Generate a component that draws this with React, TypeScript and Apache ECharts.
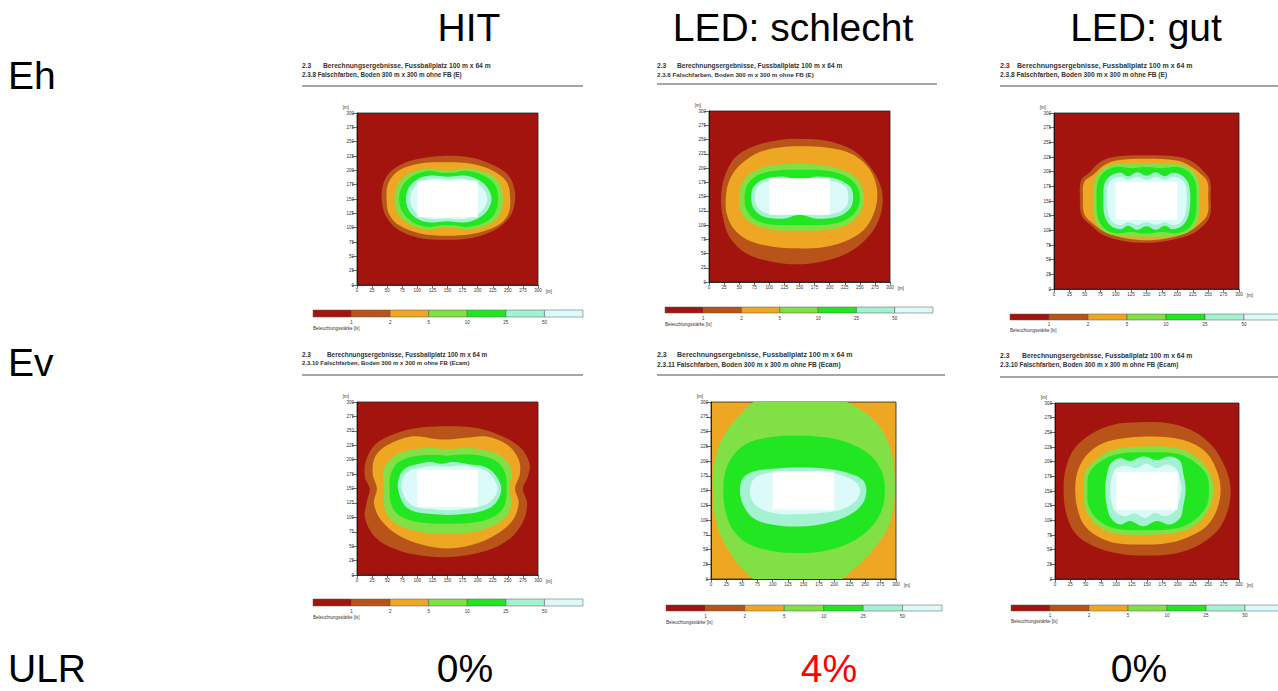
import React, { useEffect, useRef } from 'react';
import * as echarts from 'echarts';

const FONT = '"Liberation Sans", Arial, Helvetica, sans-serif';

// ---------- texts ----------
const COLUMN_TITLES = ['HIT', 'LED: schlecht', 'LED: gut'];
const ROW_TITLES = ['Eh', 'Ev', 'ULR'];
const ULR_VALUES = ['0%', '4%', '0%'];
const ULR_COLORS = ['#000000', '#ff0000', '#000000'];
const HEADER_NUM = '2.3';
const HEADER_1 = 'Berechnungsergebnisse, Fussballplatz 100 m x 64 m';
const HEADER_2 = [
  '2.3.8 Falschfarben, Boden 300 m x 300 m ohne FB (E)',
  '2.3.8 Falschfarben, Boden 300 m x 300 m ohne FB (E)',
  '2.3.8 Falschfarben, Boden 300 m x 300 m ohne FB (E)',
  '2.3.10 Falschfarben, Boden 300 m x 300 m ohne FB (Ecam)',
  '2.3.11 Falschfarben, Boden 300 m x 300 m ohne FB (Ecam)',
  '2.3.10 Falschfarben, Boden 300 m x 300 m ohne FB (Ecam)',
];
const LEGEND_TITLE = 'Beleuchtungsstärke [lx]';
const LEGEND_TICKS = ['1', '2', '5', '10', '25', '50'];
const AXIS_MIN = 0;
const AXIS_MAX = 300;
const AXIS_STEP = 25;

// level index: 0 <1 lx, 1 = 1-2, 2 = 2-5, 3 = 5-10, 4 = 10-25, 5 = 25-50, 6 = >50
const LEVEL_COLORS = ['#a3140f', '#b8541a', '#eea722', '#80e046', '#22e622', '#a4f2d2', '#dcfafa'];
const FIELD_COLOR = '#ffffff';
const FIELD = [[100, 118], [200, 118], [200, 182], [100, 182]];

// ---------- contour outlines (metres) ----------
// Eh - HIT
const EH_HIT_L1 = [[41,150],[44,178],[58,200],[90,217],[140,225],[190,222],[228,208],[252,190],[262,160],[259,132],[248,112],[225,94],[190,82],[145,79],[100,83],[66,98],[47,122]];
const EH_HIT_L2 = [[49,150],[52,178],[70,200],[105,212],[148,214],[192,211],[226,199],[248,180],[254,150],[250,122],[232,103],[195,90],[148,86],[105,90],[70,104],[53,124]];
const EH_HIT_L5 = [[62,150],[67,175],[85,194],[115,203],[140,200],[160,200],[185,203],[215,196],[235,180],[242,150],[236,122],[216,104],[185,97],[160,100],[140,100],[115,97],[86,106],[67,125]];
const EH_HIT_L10 = [[70,150],[75,172],[92,190],[118,199],[140,196],[160,196],[183,199],[210,191],[228,176],[234,150],[228,124],[210,108],[183,101],[160,104],[140,104],[118,101],[92,110],[75,128]];
const EH_HIT_L25 = [[81,150],[86,170],[101,185],[122,191],[150,189],[178,191],[200,184],[216,170],[223,150],[216,130],[200,116],[178,109],[150,111],[122,109],[101,115],[86,130]];
const EH_HIT_L50 = [[88,150],[93,167],[106,180],[125,185],[150,184],[175,185],[196,179],[210,167],[216,150],[210,133],[196,121],[175,115],[150,116],[125,115],[106,120],[93,133]];

// Eh - LED schlecht
const EH_BAD_L1 = [[20,149],[26,185],[45,220],[79,240],[123,250],[151,251],[195,248],[239,231],[267,202],[283,173],[288,144],[281,108],[261,76],[228,50],[184,35],[145,31],[106,35],[62,50],[34,79],[23,114]];
const EH_BAD_L2 = [[28,149],[34,179],[51,205],[84,228],[123,237],[151,238],[195,236],[234,226],[261,205],[275,179],[279,149],[272,117],[256,91],[223,70],[184,60],[145,59],[106,62],[68,72],[43,91],[30,117]];
const EH_BAD_L5 = [[50,149],[56,176],[79,197],[117,206],[151,207],[187,205],[223,196],[247,179],[257,149],[250,120],[228,100],[189,91],[151,90],[112,91],[76,100],[54,120]];
const EH_BAD_L10 = [[59,149],[65,173],[84,189],[117,196],[151,197],[187,196],[220,189],[242,173],[250,149],[244,125],[223,107],[189,100],[151,100],[112,100],[80,107],[63,125]];
const EH_BAD_L25 = [[70,149],[74,167],[90,180],[123,185],[145,179],[156,179],[178,185],[214,180],[234,167],[239,149],[234,129],[214,115],[178,111],[156,117],[145,117],[123,111],[90,115],[74,129]];
const EH_BAD_L50 = [[76,149],[80,166],[94,176],[123,179],[145,174],[156,174],[178,179],[211,176],[227,166],[231,149],[227,132],[211,121],[178,117],[156,121],[145,121],[123,117],[94,121],[80,132]];

// Eh - LED gut
const EH_GOOD_L1 = [[42,157],[44,185],[58,199],[74,216],[96,225],[150,228],[204,225],[226,216],[244,199],[253,185],[254,157],[253,125],[242,108],[220,92],[182,82],[150,79],[112,82],[80,92],[61,108],[45,125]];
const EH_GOOD_L2 = [[47,157],[49,182],[64,195],[80,210],[101,219],[150,222],[199,219],[220,210],[239,195],[249,182],[250,157],[249,128],[236,111],[215,96],[182,86],[150,83],[118,86],[85,96],[64,111],[49,128]];
const EH_GOOD_L5 = [[64,155],[66,185],[78,204],[100,213],[150,214],[200,213],[222,204],[234,185],[236,155],[234,120],[222,100],[200,91],[150,89],[100,91],[78,100],[66,120]];
const EH_GOOD_L10 = [[69,155],[71,183],[82,200],[100,208],[125,206],[150,208],[175,206],[200,208],[218,200],[229,183],[231,155],[229,122],[218,103],[200,95],[175,97],[150,94],[125,97],[100,95],[82,103],[71,122]];
const EH_GOOD_L25 = [[80,155],[82,180],[92,193],[108,198],[120,192],[135,199],[150,193],[165,199],[180,192],[192,198],[208,193],[218,180],[221,155],[218,125],[208,108],[192,102],[180,108],[165,101],[150,107],[135,101],[120,108],[108,102],[92,108],[82,125]];
const EH_GOOD_L50 = [[86,155],[88,178],[96,188],[110,191],[120,186],[135,191],[150,186],[165,191],[180,186],[192,191],[205,188],[213,178],[215,155],[213,128],[205,113],[192,109],[180,114],[165,109],[150,114],[135,109],[120,114],[110,109],[96,113],[88,128]];

// Ev - HIT
const EV_HIT_L1 = [[21,150],[13,170],[15,199],[32,228],[71,248],[109,256],[148,258],[190,256],[231,245],[270,222],[286,193],[283,170],[275,150],[282,124],[275,92],[253,63],[214,42],[154,31],[98,35],[54,49],[27,69],[13,101],[17,130]];
const EV_HIT_L2 = [[33,150],[26,175],[30,205],[50,225],[90,240],[130,236],[150,235],[180,238],[215,240],[250,225],[268,200],[270,175],[262,150],[268,125],[258,95],[230,70],[190,52],[150,46],[110,52],[70,68],[40,95],[28,125]];
const EV_HIT_L5 = [[45,150],[43,175],[50,195],[72,212],[110,220],[150,219],[190,220],[228,212],[250,195],[256,175],[252,150],[256,125],[248,102],[225,85],[190,74],[150,72],[110,74],[72,85],[52,102],[44,125]];
const EV_HIT_L10 = [[54,150],[56,175],[68,195],[95,206],[130,208],[150,207],[175,209],[210,206],[234,195],[246,175],[248,150],[245,122],[230,103],[200,92],[150,89],[100,92],[70,103],[57,122]];
const EV_HIT_L25 = [[68,150],[70,170],[80,185],[100,192],[120,196],[140,193],[160,196],[185,192],[210,188],[228,175],[239,150],[230,125],[210,112],[180,106],[150,104],[120,106],[95,110],[78,122]];
const EV_HIT_L50 = [[74,150],[76,168],[86,180],[105,186],[125,189],[150,188],[175,190],[200,186],[220,176],[233,150],[222,128],[200,118],[175,114],[150,112],[125,114],[100,117],[84,127]];

// Ev - LED schlecht (background 2-5 lx)
const EV_BAD_L5 = [[3,150],[4,123],[12,83],[31,44],[52,16],[77,-4],[150,-8],[204,-4],[231,16],[258,44],[285,83],[296,123],[298,168],[293,213],[277,252],[252,280],[209,304],[150,308],[77,304],[47,278],[23,247],[9,213],[3,175]];
const EV_BAD_L10 = [[20,151],[24,185],[39,213],[63,232],[101,241],[144,243],[188,240],[225,230],[258,210],[277,182],[282,151],[277,117],[258,86],[225,61],[182,47],[144,44],[101,47],[58,61],[34,86],[23,117]];
const EV_BAD_L25 = [[47,151],[52,171],[69,182],[101,187],[144,189],[188,187],[225,179],[246,168],[252,151],[246,128],[225,109],[188,95],[144,89],[101,92],[69,103],[52,126]];
const EV_BAD_L50 = [[63,151],[68,168],[82,177],[112,182],[144,183],[188,181],[220,173],[237,162],[242,151],[236,134],[217,120],[188,113],[144,110],[106,111],[79,120],[66,134]];

// Ev - LED gut
const EV_GOOD_L1 = [[14,152],[17,186],[30,220],[57,246],[95,263],[139,267],[182,266],[220,255],[252,232],[274,198],[286,158],[282,118],[266,84],[236,59],[198,44],[149,40],[106,43],[63,56],[33,78],[18,113]];
const EV_GOOD_L2 = [[33,152],[37,184],[52,212],[79,232],[112,240],[149,243],[187,241],[220,233],[247,215],[264,184],[270,152],[264,118],[247,90],[214,70],[177,60],[144,59],[106,60],[74,70],[49,90],[37,118]];
const EV_GOOD_L5 = [[47,152],[49,181],[66,203],[93,220],[149,226],[204,222],[233,206],[252,181],[258,152],[252,121],[233,95],[204,80],[149,75],[95,78],[66,94],[49,121]];
const EV_GOOD_L10 = [[53,152],[55,178],[71,198],[98,212],[149,216],[201,213],[228,199],[247,178],[251,152],[247,124],[228,101],[201,87],[149,83],[98,86],[71,100],[55,124]];
const EV_GOOD_L25 = [[82,152],[84,175],[91,197],[106,206],[122,201],[144,209],[166,203],[187,209],[204,201],[209,181],[213,152],[209,124],[204,104],[187,93],[166,99],[144,90],[122,99],[106,93],[91,104],[84,127]];
const EV_GOOD_L50 = [[90,152],[93,175],[100,189],[117,193],[133,189],[149,197],[166,189],[182,195],[198,187],[204,169],[206,152],[202,132],[195,115],[179,107],[163,113],[147,104],[130,112],[114,107],[98,115],[92,132]];

// per panel: background level, then [level, outline] from outside to inside
const PANEL_BG = [0, 0, 0, 0, 2, 0];
const PANEL_CONTOURS: [number, number[][]][][] = [
  [[1, EH_HIT_L1], [2, EH_HIT_L2], [3, EH_HIT_L5], [4, EH_HIT_L10], [5, EH_HIT_L25], [6, EH_HIT_L50]],
  [[1, EH_BAD_L1], [2, EH_BAD_L2], [3, EH_BAD_L5], [4, EH_BAD_L10], [5, EH_BAD_L25], [6, EH_BAD_L50]],
  [[1, EH_GOOD_L1], [2, EH_GOOD_L2], [3, EH_GOOD_L5], [4, EH_GOOD_L10], [5, EH_GOOD_L25], [6, EH_GOOD_L50]],
  [[1, EV_HIT_L1], [2, EV_HIT_L2], [3, EV_HIT_L5], [4, EV_HIT_L10], [5, EV_HIT_L25], [6, EV_HIT_L50]],
  [[3, EV_BAD_L5], [4, EV_BAD_L10], [5, EV_BAD_L25], [6, EV_BAD_L50]],
  [[1, EV_GOOD_L1], [2, EV_GOOD_L2], [3, EV_GOOD_L5], [4, EV_GOOD_L10], [5, EV_GOOD_L25], [6, EV_GOOD_L50]],
];

// ---------- layout (pixels) ----------
const LAYOUT = [
  { grid: [357, 113, 181, 172], hx: 302, hx2: 323, hy1: 65, hy2: 74, hs: 6.7, hrY: 86, hrX2: 583, lg: [313, 310, 270, 7], lgLabelY: 322, lgTitleY: 328 },
  { grid: [709, 111, 181, 171], hx: 657, hx2: 677, hy1: 65, hy2: 74, hs: 6.6, hrY: 84, hrX2: 937, lg: [665, 307, 268, 6], lgLabelY: 318, lgTitleY: 324 },
  { grid: [1054, 113, 185, 176], hx: 1000, hx2: 1017, hy1: 65, hy2: 74, hs: 7.0, hrY: 86, hrX2: 1278, lg: [1010, 314, 273, 6], lgLabelY: 324, lgTitleY: 330 },
  { grid: [357, 402, 181, 173], hx: 302, hx2: 327, hy1: 354, hy2: 363, hs: 6.4, hrY: 375, hrX2: 583, lg: [313, 599, 270, 7], lgLabelY: 611, lgTitleY: 617 },
  { grid: [711, 402, 185, 177], hx: 657, hx2: 677, hy1: 354, hy2: 364, hs: 7.0, hrY: 375, hrX2: 945, lg: [666, 605, 276, 6], lgLabelY: 616, lgTitleY: 622 },
  { grid: [1055, 403, 184, 176], hx: 1000, hx2: 1022, hy1: 355, hy2: 364, hs: 6.8, hrY: 377, hrX2: 1278, lg: [1011, 605, 273, 6], lgLabelY: 615, lgTitleY: 621 },
];
const COL_X = [469, 793, 1146];
const ULR_X = [465, 829, 1139];

function txt(x: number, y: number, text: string, size: number, opts: any = {}) {
  const align = opts.align || 'left';
  return {
    type: 'text',
    x,
    y,
    silent: true,
    style: {
      text,
      fontSize: size,
      fontFamily: FONT,
      fontWeight: opts.weight || 'normal',
      fill: opts.color || '#000',
      align,
      textAlign: align,
      verticalAlign: 'middle',
      textVerticalAlign: 'middle',
    },
  };
}

function buildOption() {
  const graphics: any[] = [];
  COLUMN_TITLES.forEach((t, i) => graphics.push(txt(COL_X[i], 27, t, 39, { align: 'center' })));
  graphics.push(txt(8, 75, ROW_TITLES[0], 39));
  graphics.push(txt(8, 362, ROW_TITLES[1], 39));
  graphics.push(txt(8, 668, ROW_TITLES[2], 39));
  ULR_VALUES.forEach((t, i) => graphics.push(txt(ULR_X[i], 668, t, 39, { align: 'center', color: ULR_COLORS[i] })));

  LAYOUT.forEach((l, i) => {
    graphics.push(txt(l.hx, l.hy1, HEADER_NUM, l.hs, { weight: 'bold', color: '#333' }));
    graphics.push(txt(l.hx2, l.hy1, HEADER_1, l.hs, { weight: 'bold', color: '#333' }));
    graphics.push(txt(l.hx, l.hy2, HEADER_2[i], l.hs - 0.4, { weight: 'bold', color: '#333' }));
    graphics.push({
      type: 'line',
      silent: true,
      shape: { x1: l.hx, y1: l.hrY, x2: l.hrX2, y2: l.hrY },
      style: { stroke: '#8a8a8a', lineWidth: 1.5 },
    });
    const [lx, ly, lw, lh] = l.lg;
    const sw = lw / LEVEL_COLORS.length;
    LEVEL_COLORS.forEach((c, k) => {
      graphics.push({
        type: 'rect',
        silent: true,
        shape: { x: lx + k * sw, y: ly, width: sw, height: lh },
        style: { fill: c, stroke: '#555', lineWidth: 0.5 },
      });
    });
    LEGEND_TICKS.forEach((t, k) => {
      graphics.push(txt(lx + (k + 1) * sw, l.lgLabelY, t, 4.5, { align: 'center', color: '#333' }));
    });
    graphics.push(txt(lx, l.lgTitleY, LEGEND_TITLE, 4.5, { color: '#333' }));
  });

  const axisCommon = {
    type: 'value',
    min: AXIS_MIN,
    max: AXIS_MAX,
    interval: AXIS_STEP,
    splitLine: { show: false },
    axisLine: { show: true, lineStyle: { color: '#111', width: 0.8 } },
    axisLabel: { fontSize: 4.5, color: '#333', fontFamily: FONT, margin: 3 },
    name: '[m]',
    nameLocation: 'end',
  };

  const grid = LAYOUT.map((l, i) => ({
    left: l.grid[0],
    top: l.grid[1],
    width: l.grid[2],
    height: l.grid[3],
    show: true,
    backgroundColor: LEVEL_COLORS[PANEL_BG[i]],
    borderColor: '#222',
    borderWidth: 0.8,
    containLabel: false,
    outerBoundsMode: 'none',
  }));

  const xAxis = LAYOUT.map((_, i) => ({
    ...axisCommon,
    gridIndex: i,
    axisTick: { show: true, length: 3, lineStyle: { color: '#111', width: 0.6 } },
    nameGap: 5,
    nameTextStyle: { fontSize: 4.5, color: '#333', fontFamily: FONT, verticalAlign: 'top', padding: [4, 0, 0, 0] },
  }));
  const yAxis = LAYOUT.map((_, i) => ({
    ...axisCommon,
    gridIndex: i,
    axisTick: { show: true, length: 5, lineStyle: { color: '#111', width: 0.6 } },
    nameGap: 3,
    nameTextStyle: { fontSize: 4.5, color: '#333', fontFamily: FONT, align: 'right', padding: [0, 8, 0, 0] },
  }));

  const series = PANEL_CONTOURS.map((contours, i) => {
    const shapes = contours
      .map(([lvl, pts]) => ({ pts, color: LEVEL_COLORS[lvl], smooth: 0.35 }))
      .concat([{ pts: FIELD, color: FIELD_COLOR, smooth: 0 }]);
    return {
      type: 'custom',
      xAxisIndex: i,
      yAxisIndex: i,
      clip: true,
      silent: true,
      data: shapes.map((_, k) => [150, 150, k]),
      renderItem: (params: any, api: any) => {
        const s = shapes[params.dataIndex];
        return {
          type: 'polygon',
          shape: { points: s.pts.map((p) => api.coord(p)), smooth: s.smooth },
          style: { fill: s.color },
        };
      },
    };
  });

  return {
    animation: false,
    backgroundColor: '#ffffff',
    grid,
    xAxis,
    yAxis,
    series,
    graphic: { elements: graphics },
  };
}

export default function App() {
  const ref = useRef<HTMLDivElement>(null);
  useEffect(() => {
    if (!ref.current) return;
    const chart = echarts.init(ref.current, null, { renderer: 'svg' });
    chart.setOption(buildOption() as any);
    return () => chart.dispose();
  }, []);
  return (
    <div
      ref={ref}
      style={{ position: 'absolute', left: 0, top: 0, width: 1278, height: 691, background: '#fff' }}
    />
  );
}
